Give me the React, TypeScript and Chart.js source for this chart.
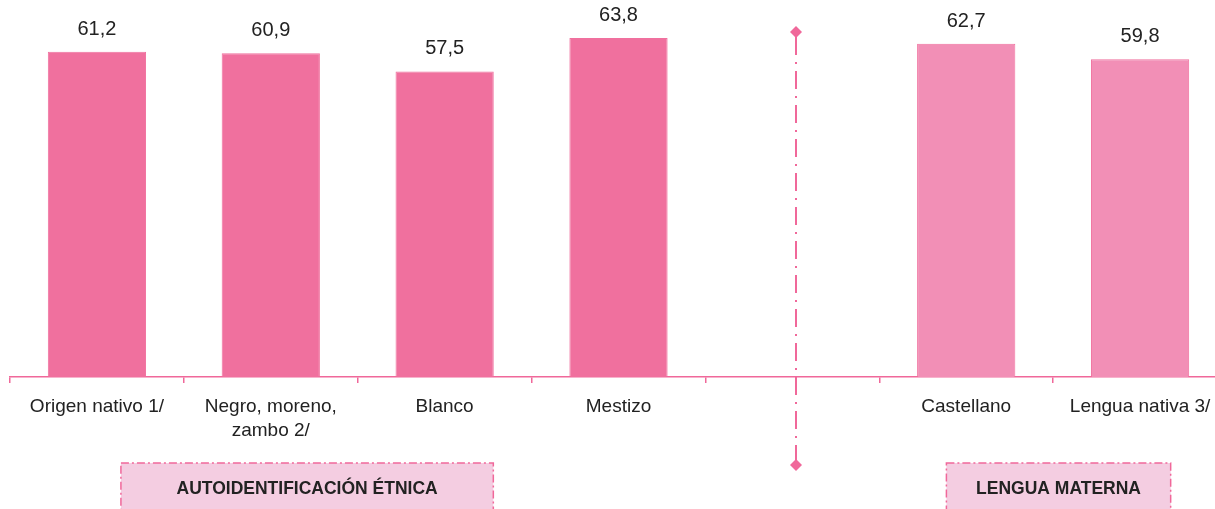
import React, { useEffect, useRef } from "react";
import { Chart, registerables } from "chart.js";

Chart.register(...registerables);

const categories: (string | string[])[] = [
  "Origen nativo 1/",
  ["Negro, moreno,", "zambo 2/"],
  "Blanco",
  "Mestizo",
  "",
  "Castellano",
  "Lengua nativa 3/",
];
const values: (number | null)[] = [61.2, 60.9, 57.5, 63.8, null, 62.7, 59.8];
const groupLabels = ["AUTOIDENTIFICACIÓN ÉTNICA", "LENGUA MATERNA"];

const DARK = "#f0709e";
const LIGHT = "#f28fb6";
const PINK_LINE = "#f0689a";
const BOX_FILL = "#f4cde1";
const TEXT = "#222222";
const FONT = "'Liberation Sans', Arial, sans-serif";

const barColors = values.map((_, i) => (i < 4 ? DARK : LIGHT));

const overlayPlugin = {
  id: "overlay",
  afterDatasetsDraw(chart: any) {
    const ctx = chart.ctx;
    const meta = chart.getDatasetMeta(0);
    const x = chart.scales.x;
    ctx.save();
    // value labels
    ctx.fillStyle = TEXT;
    ctx.font = `20px ${FONT}`;
    ctx.textAlign = "center";
    ctx.textBaseline = "alphabetic";
    meta.data.forEach((bar: any, i: number) => {
      const v = values[i];
      if (v == null) return;
      ctx.fillText(v.toFixed(1).replace(".", ","), bar.x, bar.y - 17);
    });

    // vertical dash-dot separator
    const sx = Math.round(x.getPixelForValue(4.02));
    const y1 = 32;
    const y2 = 465;
    ctx.strokeStyle = PINK_LINE;
    ctx.lineWidth = 2;
    ctx.setLineDash([18, 7, 2, 7]);
    ctx.beginPath();
    ctx.moveTo(sx, y1 + 5);
    ctx.lineTo(sx, y2);
    ctx.stroke();
    ctx.setLineDash([]);
    ctx.fillStyle = PINK_LINE;
    [y1, y2].forEach((yy) => {
      ctx.beginPath();
      ctx.moveTo(sx, yy - 6);
      ctx.lineTo(sx + 6, yy);
      ctx.lineTo(sx, yy + 6);
      ctx.lineTo(sx - 6, yy);
      ctx.closePath();
      ctx.fill();
    });

    // group boxes
    const boxes = [
      { l: 0.138, r: 2.28, text: groupLabels[0] },
      { l: 4.886, r: 6.176, text: groupLabels[1] },
    ];
    boxes.forEach((b) => {
      const l = x.getPixelForValue(b.l);
      const r = x.getPixelForValue(b.r);
      const top = 463;
      const bottom = 512;
      ctx.fillStyle = BOX_FILL;
      ctx.fillRect(l, top, r - l, bottom - top);
      ctx.strokeStyle = PINK_LINE;
      ctx.lineWidth = 1.5;
      ctx.setLineDash([8, 3, 2, 3]);
      ctx.strokeRect(l, top, r - l, bottom - top);
      ctx.setLineDash([]);
      ctx.fillStyle = TEXT;
      ctx.font = `bold 17.5px ${FONT}`;
      ctx.textAlign = "center";
      ctx.textBaseline = "middle";
      ctx.fillText(b.text, (l + r) / 2, 489);
    });
    ctx.restore();
  },
};

export default function App() {
  const ref = useRef<HTMLCanvasElement>(null);
  useEffect(() => {
    if (!ref.current) return;
    const chart = new Chart(ref.current, {
      type: "bar",
      data: {
        labels: categories,
        datasets: [
          {
            data: values,
            backgroundColor: barColors,
            borderColor: DARK,
            borderWidth: 1,
            barPercentage: 0.565,
            categoryPercentage: 1,
          },
        ],
      },
      options: {
        responsive: false,
        animation: false,
        layout: { padding: { left: 10, right: 0, top: 5, bottom: 0 } },
        plugins: {
          legend: { display: false },
          tooltip: { enabled: false },
          title: { display: false },
        },
        scales: {
          x: {
            afterFit(scale: any) {
              scale.height = 132;
            },
            border: { display: true, color: PINK_LINE, width: 1.5 },
            grid: {
              display: true,
              drawOnChartArea: false,
              drawTicks: true,
              tickLength: 6,
              lineWidth: 1.5,
              color: PINK_LINE,
              offset: true,
            },
            ticks: {
              color: TEXT,
              font: { family: FONT, size: 19, lineHeight: 1.3 },
              padding: 11,
              maxRotation: 0,
              autoSkip: false,
            },
          },
          y: {
            display: false,
            min: 0,
            max: 70,
          },
        },
      },
      plugins: [overlayPlugin],
    });
    return () => chart.destroy();
  }, []);
  return (
    <div
      style={{
        position: "absolute",
        left: 0,
        top: 0,
        width: 1215,
        height: 509,
        overflow: "hidden",
        background: "#fff",
      }}
    >
      <canvas ref={ref} width={1227} height={509} style={{ display: "block" }} />
    </div>
  );
}
